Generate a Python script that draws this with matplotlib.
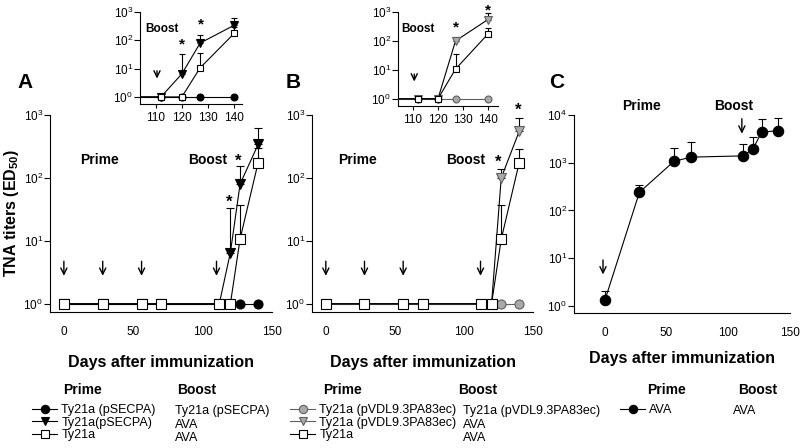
import matplotlib
matplotlib.use("Agg")
import matplotlib.pyplot as plt
from matplotlib.lines import Line2D
from matplotlib.ticker import FixedLocator, NullLocator

# フォント設定 (Arial 互換)
plt.rcParams['font.family'] = ['Liberation Sans', 'DejaVu Sans']
plt.rcParams['mathtext.fontset'] = 'custom'
plt.rcParams['mathtext.rm'] = 'Liberation Sans'
plt.rcParams['mathtext.bf'] = 'Liberation Sans:bold'
plt.rcParams['mathtext.default'] = 'regular'

# ---- データ ----
days = [0, 28, 56, 70, 112, 120, 127, 140]

# A: pSECPA
a_circle = [1, 1, 1, 1, 1, 1, 1, 1]
a_tri = [1, 1, 1, 1, 1, 6.5, 80, 340]
a_tri_err = [0, 0, 0, 0, 0, 27, 75, 290]
a_square = [1, 1, 1, 1, 1, 1, 10.7, 175]
a_square_err = [0, 0, 0, 0, 0, 0, 26, 120]
a_arrows = [0, 28, 56, 110]

# B: pVDL9.3PA83ec
b_circle = [1, 1, 1, 1, 1, 1, 1, 1]
b_tri = [1, 1, 1, 1, 1, 1, 100, 550]
b_tri_err = [0, 0, 0, 0, 0, 0, 40, 350]
b_square = [1, 1, 1, 1, 1, 1, 10.6, 175]
b_square_err = [0, 0, 0, 0, 0, 0, 26, 115]
b_arrows = [0, 28, 56, 112]

# C: AVA
c_ava = [1.3, 240, 1070, 1310, 1390, 1950, 4350, 4700]
c_ava_err = [0.7, 105, 930, 1390, 1090, 1590, 3900, 3800]

GRAY = '#a9a9a9'
GRAY_EDGE = '#606060'


def series(ax, y, marker, fc, ec, ms, z, lc='black'):
    ax.plot(days, y, color=lc, lw=0.8, marker=marker, ms=ms, mfc=fc, mec=ec,
            mew=0.8, zorder=z, clip_on=False)


def upper_err(ax, y, err, z, cap=3):
    # 上側のみのエラーバー
    xs = [d for d, e in zip(days, err) if e > 0]
    ys = [v for v, e in zip(y, err) if e > 0]
    es = [e for e in err if e > 0]
    ax.errorbar(xs, ys, yerr=[[0] * len(es), es], fmt='none', ecolor='black',
                elinewidth=0.8, capsize=cap, capthick=0.8, zorder=z)


def arrow(ax, x, top, bottom):
    ax.annotate('', xy=(x, bottom), xytext=(x, top),
                arrowprops=dict(arrowstyle='->,head_length=0.45,head_width=0.22',
                                lw=1.0, color='black'), annotation_clip=False)


def star(ax, x, y, size=12):
    ax.text(x, y, '*', ha='center', va='center', fontsize=size,
            fontweight='bold', clip_on=False)


def style_axes(ax, ticks_y, ylim, xlim, xticks, tsize=8.5, inset=False):
    ax.set_yscale('log')
    ax.set_ylim(*ylim)
    ax.set_xlim(*xlim)
    ax.yaxis.set_major_locator(FixedLocator(ticks_y))
    ax.yaxis.set_minor_locator(NullLocator())
    ax.set_xticks(xticks)
    ax.spines['top'].set_visible(False)
    ax.spines['right'].set_visible(False)
    ax.spines['left'].set_linewidth(0.8)
    ax.spines['bottom'].set_linewidth(0.8)
    ax.tick_params(axis='y', direction='out', length=4, width=0.8, pad=1,
                   labelsize=tsize)
    if inset:
        ax.tick_params(axis='x', direction='out', length=3, width=0.8, pad=3,
                       labelsize=tsize)
    else:
        ax.tick_params(axis='x', length=0, pad=10, labelsize=tsize)
    ax.set_facecolor('none')


fig = plt.figure(figsize=(8, 4.48), dpi=100)

W, H = 800.0, 448.0


def px_axes(left, top, right, bottom):
    return fig.add_axes([left / W, 1 - bottom / H, (right - left) / W, (bottom - top) / H])


# ---- パネル A ----
axA = px_axes(50, 115, 272, 312)
upper_err(axA, a_tri, a_tri_err, 2)
upper_err(axA, a_square, a_square_err, 2)
series(axA, a_circle, 'o', 'black', 'black', 6.5, 3)
series(axA, a_tri, 'v', 'black', 'black', 7, 4)
series(axA, a_square, 's', 'white', 'black', 6.5, 5)
style_axes(axA, [1, 10, 100, 1000], (0.74, 1000), (-10, 150), [0, 50, 100, 150])
axA.set_xlabel('Days after immunization', fontsize=11.5, fontweight='bold', labelpad=12)
for d in a_arrows:
    arrow(axA, d, 10 ** 0.72, 10 ** 0.4)
axA.text(26, 10 ** 2.29, 'Prime', ha='center', va='center', fontsize=10, fontweight='bold')
axA.text(104, 10 ** 2.29, 'Boost', ha='center', va='center', fontsize=10, fontweight='bold')
star(axA, 119, 10 ** 1.62)
star(axA, 125.5, 10 ** 2.27)

# A の挿入図
inA = px_axes(140, 12, 242, 104)
upper_err(inA, a_tri, a_tri_err, 2, cap=2)
upper_err(inA, a_square, a_square_err, 2, cap=2)
series(inA, a_circle, 'o', 'black', 'black', 5, 3)
series(inA, a_tri, 'v', 'black', 'black', 5.5, 4)
series(inA, a_square, 's', 'white', 'black', 5, 5)
style_axes(inA, [1, 10, 100, 1000], (10 ** -0.25, 1000), (104, 143),
           [110, 120, 130, 140], tsize=8.5, inset=True)
for l in inA.get_lines():
    l.set_clip_on(True)
arrow(inA, 110.5, 10 ** 1.02, 10 ** 0.55)
inA.text(106, 10 ** 2.4, 'Boost', ha='left', va='center', fontsize=8.5, fontweight='bold')
star(inA, 120, 10 ** 1.85, size=11)
star(inA, 127.5, 10 ** 2.55, size=11)

# ---- パネル B ----
axB = px_axes(312, 115, 533, 312)
upper_err(axB, b_tri, b_tri_err, 2)
upper_err(axB, b_square, b_square_err, 2)
series(axB, b_circle, 'o', GRAY, GRAY_EDGE, 6.5, 3, lc=GRAY_EDGE)
series(axB, b_tri, 'v', GRAY, GRAY_EDGE, 7, 4)
series(axB, b_square, 's', 'white', 'black', 6.5, 5)
style_axes(axB, [1, 10, 100, 1000], (0.74, 1000), (-10, 150), [0, 50, 100, 150])
axB.set_xlabel('Days after immunization', fontsize=11.5, fontweight='bold', labelpad=12)
for d in b_arrows:
    arrow(axB, d, 10 ** 0.72, 10 ** 0.4)
axB.text(23, 10 ** 2.29, 'Prime', ha='center', va='center', fontsize=10, fontweight='bold')
axB.text(101, 10 ** 2.29, 'Boost', ha='center', va='center', fontsize=10, fontweight='bold')
star(axB, 124.5, 10 ** 2.25)
star(axB, 139, 10 ** 3.08)

# B の挿入図
inB = px_axes(398, 12, 498, 106)
upper_err(inB, b_tri, b_tri_err, 2, cap=2)
upper_err(inB, b_square, b_square_err, 2, cap=2)
series(inB, b_circle, 'o', GRAY, GRAY_EDGE, 5, 3, lc=GRAY_EDGE)
series(inB, b_tri, 'v', GRAY, GRAY_EDGE, 5.5, 4)
series(inB, b_square, 's', 'white', 'black', 5, 5)
style_axes(inB, [1, 10, 100, 1000], (10 ** -0.25, 1000), (104, 144),
           [110, 120, 130, 140], tsize=8.5, inset=True)
for l in inB.get_lines():
    l.set_clip_on(True)
arrow(inB, 110.5, 10 ** 0.95, 10 ** 0.5)
inB.text(105.5, 10 ** 2.4, 'Boost', ha='left', va='center', fontsize=8.5, fontweight='bold')
star(inB, 127, 10 ** 2.45, size=11)
# 上端で切れないよう少し下げる
inB.text(140, 10 ** 3.3, '*', ha='center', va='top', fontsize=11,
         fontweight='bold', clip_on=False)

# ---- パネル C ----
axC = px_axes(574, 115, 790, 313)
upper_err(axC, c_ava, c_ava_err, 2)
series(axC, c_ava, 'o', 'black', 'black', 7.5, 3)
style_axes(axC, [1, 10, 100, 1000, 10000], (10 ** -0.15, 10000), (-25, 150), [0, 50, 100, 150])
axC.set_xlabel('Days after immunization', fontsize=11.5, fontweight='bold', labelpad=9)
arrow(axC, -1.5, 10 ** 1.02, 10 ** 0.6)
arrow(axC, 111, 10 ** 3.98, 10 ** 3.55)
axC.text(30, 10 ** 4.19, 'Prime', ha='center', va='center', fontsize=10, fontweight='bold')
axC.text(104.5, 10 ** 4.19, 'Boost', ha='center', va='center', fontsize=10, fontweight='bold')

# ---- パネル記号と軸ラベル ----
for lab, x in [('A', 25), ('B', 293), ('C', 557)]:
    fig.text(x / W, 1 - 82 / H, lab, ha='center', va='center', fontsize=15, fontweight='bold')
fig.text(12 / W, 1 - 213 / H, r'TNA titers (ED$\mathbf{_{50}}$)', rotation=90,
         ha='center', va='center', fontsize=11.5, fontweight='bold')

# ---- 凡例 ----
def handle(marker, fc, ec, lc='black'):
    return Line2D([], [], color=lc, lw=0.8, marker=marker, ms=6, mfc=fc, mec=ec, mew=0.8)


legend_sets = [
    (32, [handle('o', 'black', 'black'), handle('v', 'black', 'black'), handle('s', 'white', 'black')],
     ['Ty21a (pSECPA)', 'Ty21a(pSECPA)', 'Ty21a']),
    (290, [handle('o', GRAY, GRAY_EDGE, GRAY_EDGE), handle('v', GRAY, GRAY_EDGE, GRAY_EDGE),
           handle('s', 'white', 'black')],
     ['Ty21a (pVDL9.3PA83ec)', 'Ty21a (pVDL9.3PA83ec)', 'Ty21a']),
    (620, [handle('o', 'black', 'black')], ['AVA']),
]
for x, hs, labs in legend_sets:
    fig.legend(handles=hs, labels=labs, loc='upper left', bbox_to_anchor=(x / W, 1 - 404 / H),
               frameon=False, fontsize=9, handlelength=2.0, handletextpad=0.35,
               labelspacing=0.05, borderpad=0, borderaxespad=0)

boost_cols = [
    (175, ['Ty21a (pSECPA)', 'AVA', 'AVA']),
    (463, ['Ty21a (pVDL9.3PA83ec)', 'AVA', 'AVA']),
    (733, ['AVA']),
]
for x, labs in boost_cols:
    for i, t in enumerate(labs):
        fig.text(x / W, 1 - (411 + 13.5 * i) / H, t, ha='left', va='center', fontsize=9)

headings = [(63, 177), (323, 458), (647, 738)]
for xp, xb in headings:
    fig.text(xp / W, 1 - 390 / H, 'Prime', ha='left', va='center', fontsize=10, fontweight='bold')
    fig.text(xb / W, 1 - 390 / H, 'Boost', ha='left', va='center', fontsize=10, fontweight='bold')

fig.savefig('out.png', dpi=100)
